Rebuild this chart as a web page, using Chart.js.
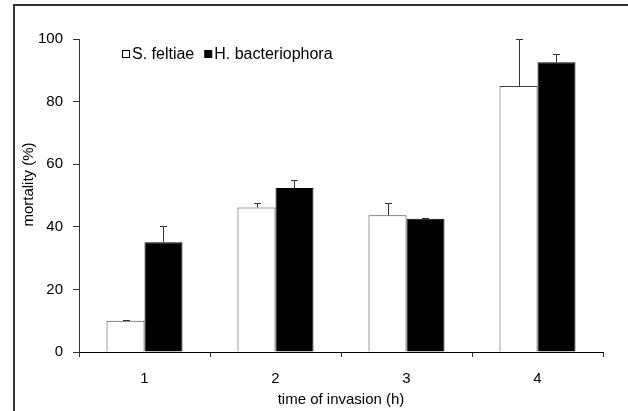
<!DOCTYPE html>
<html>
<head>
<meta charset="utf-8">
<script src="https://cdn.jsdelivr.net/npm/chart.js@4/dist/chart.umd.min.js"></script>
<style>
  html, body { margin: 0; padding: 0; background: #fff; }
  #wrap { position: relative; width: 628px; height: 411px; }
</style>
</head>
<body>
<div id="wrap"><canvas id="c" width="628" height="411"></canvas></div>
<script>
// ---- data ----
const categories = ['1', '2', '3', '4'];
const feltiae = [10, 46.2, 43.7, 85];
const feltiaeErr = [0.3, 1.5, 4, 15];
const bacteriophora = [35.1, 52.4, 42.6, 92.6];
const bacteriophoraErr = [5.2, 2.4, 0.2, 2.6];
const seriesNames = ['S. feltiae', 'H. bacteriophora'];
const yTicks = [0, 20, 40, 60, 80, 100];
const xTitle = 'time of invasion (h)';
const yTitle = 'mortality (%)';

const FONT = "'Liberation Sans', Arial, sans-serif";
const errors = [feltiaeErr, bacteriophoraErr];

const framePlugin = {
  id: 'frame',
  beforeDraw(chart) {
    const ctx = chart.ctx;
    ctx.save();
    ctx.strokeStyle = '#333';
    ctx.lineWidth = 2;
    ctx.beginPath();
    ctx.moveTo(14, 411);
    ctx.lineTo(14, 5);
    ctx.lineTo(628, 5);
    ctx.stroke();
    ctx.restore();
  }
};

const errorBarPlugin = {
  id: 'errbars',
  afterDatasetsDraw(chart) {
    const ctx = chart.ctx;
    const y = chart.scales.y;
    ctx.save();
    ctx.strokeStyle = '#333';
    ctx.lineWidth = 1;
    chart.data.datasets.forEach((ds, di) => {
      const meta = chart.getDatasetMeta(di);
      meta.data.forEach((bar, i) => {
        const v = ds.data[i];
        const e = errors[di][i];
        const x = Math.round(bar.x) + 0.5;
        const y0 = y.getPixelForValue(v);
        const y1 = Math.round(y.getPixelForValue(v + e)) + 0.5;
        ctx.beginPath();
        ctx.moveTo(x, y0);
        ctx.lineTo(x, y1);
        ctx.moveTo(x - 3.5, y1);
        ctx.lineTo(x + 3.5, y1);
        ctx.stroke();
      });
    });
    ctx.restore();
  }
};

const yTitlePlugin = {
  id: 'yTitle',
  afterDraw(chart) {
    const ctx = chart.ctx;
    const area = chart.chartArea;
    ctx.save();
    ctx.font = '15px ' + FONT;
    ctx.fillStyle = '#000';
    ctx.textAlign = 'center';
    ctx.textBaseline = 'middle';
    ctx.translate(29, (area.top + area.bottom) / 2 - 11);
    ctx.rotate(-Math.PI / 2);
    ctx.fillText(yTitle, 0, 0);
    ctx.restore();
  }
};

const legendPlugin = {
  id: 'innerLegend',
  afterDraw(chart) {
    const ctx = chart.ctx;
    ctx.save();
    ctx.font = '16px ' + FONT;
    ctx.textBaseline = 'alphabetic';
    let x = 122;
    const boxTop = 50.5, box = 7;
    chart.data.datasets.forEach((ds) => {
      ctx.fillStyle = ds.backgroundColor;
      ctx.fillRect(x + 0.5, boxTop, box, box);
      ctx.strokeStyle = '#000';
      ctx.lineWidth = 1;
      ctx.strokeRect(x + 0.5, boxTop, box, box);
      ctx.fillStyle = '#000';
      ctx.fillText(ds.label, x + box + 3, 58.5);
      x += box + 3 + ctx.measureText(ds.label).width + 10;
    });
    ctx.restore();
  }
};

new Chart(document.getElementById('c'), {
  type: 'bar',
  data: {
    labels: categories,
    datasets: [
      { label: seriesNames[0], data: feltiae, backgroundColor: '#ffffff', borderColor: '#404040', borderWidth: 1, borderSkipped: 'bottom' },
      { label: seriesNames[1], data: bacteriophora, backgroundColor: '#000000', borderColor: '#000000', borderWidth: 1, borderSkipped: 'bottom' }
    ]
  },
  options: {
    responsive: false,
    animation: false,
    devicePixelRatio: 1,
    layout: { padding: { left: 0, right: 25, top: 39, bottom: 0 } },
    datasets: { bar: { categoryPercentage: 0.58, barPercentage: 1.0 } },
    plugins: { legend: { display: false }, tooltip: { enabled: false } },
    scales: {
      x: {
        afterFit(s) { s.height = 59; },
        border: { display: true, color: '#000', width: 1 },
        grid: { drawOnChartArea: false, drawTicks: true, tickLength: 5, offset: true, color: '#333' },
        ticks: { color: '#000', font: { family: FONT, size: 15 }, padding: 13 },
        title: { display: true, text: xTitle, color: '#000', font: { family: FONT, size: 15 }, padding: { top: 0, bottom: 2 } }
      },
      y: {
        min: 0, max: 100,
        afterFit(s) { s.width = 79; },
        afterBuildTicks(s) { s.ticks = yTicks.map(v => ({ value: v })); },
        border: { display: true, color: '#333', width: 1 },
        grid: { drawOnChartArea: false, drawTicks: true, tickLength: 6, color: '#333' },
        ticks: { color: '#000', font: { family: FONT, size: 15 }, padding: 10 },
        title: { display: false }
      }
    }
  },
  plugins: [framePlugin, errorBarPlugin, yTitlePlugin, legendPlugin]
});
</script>
</body>
</html>
